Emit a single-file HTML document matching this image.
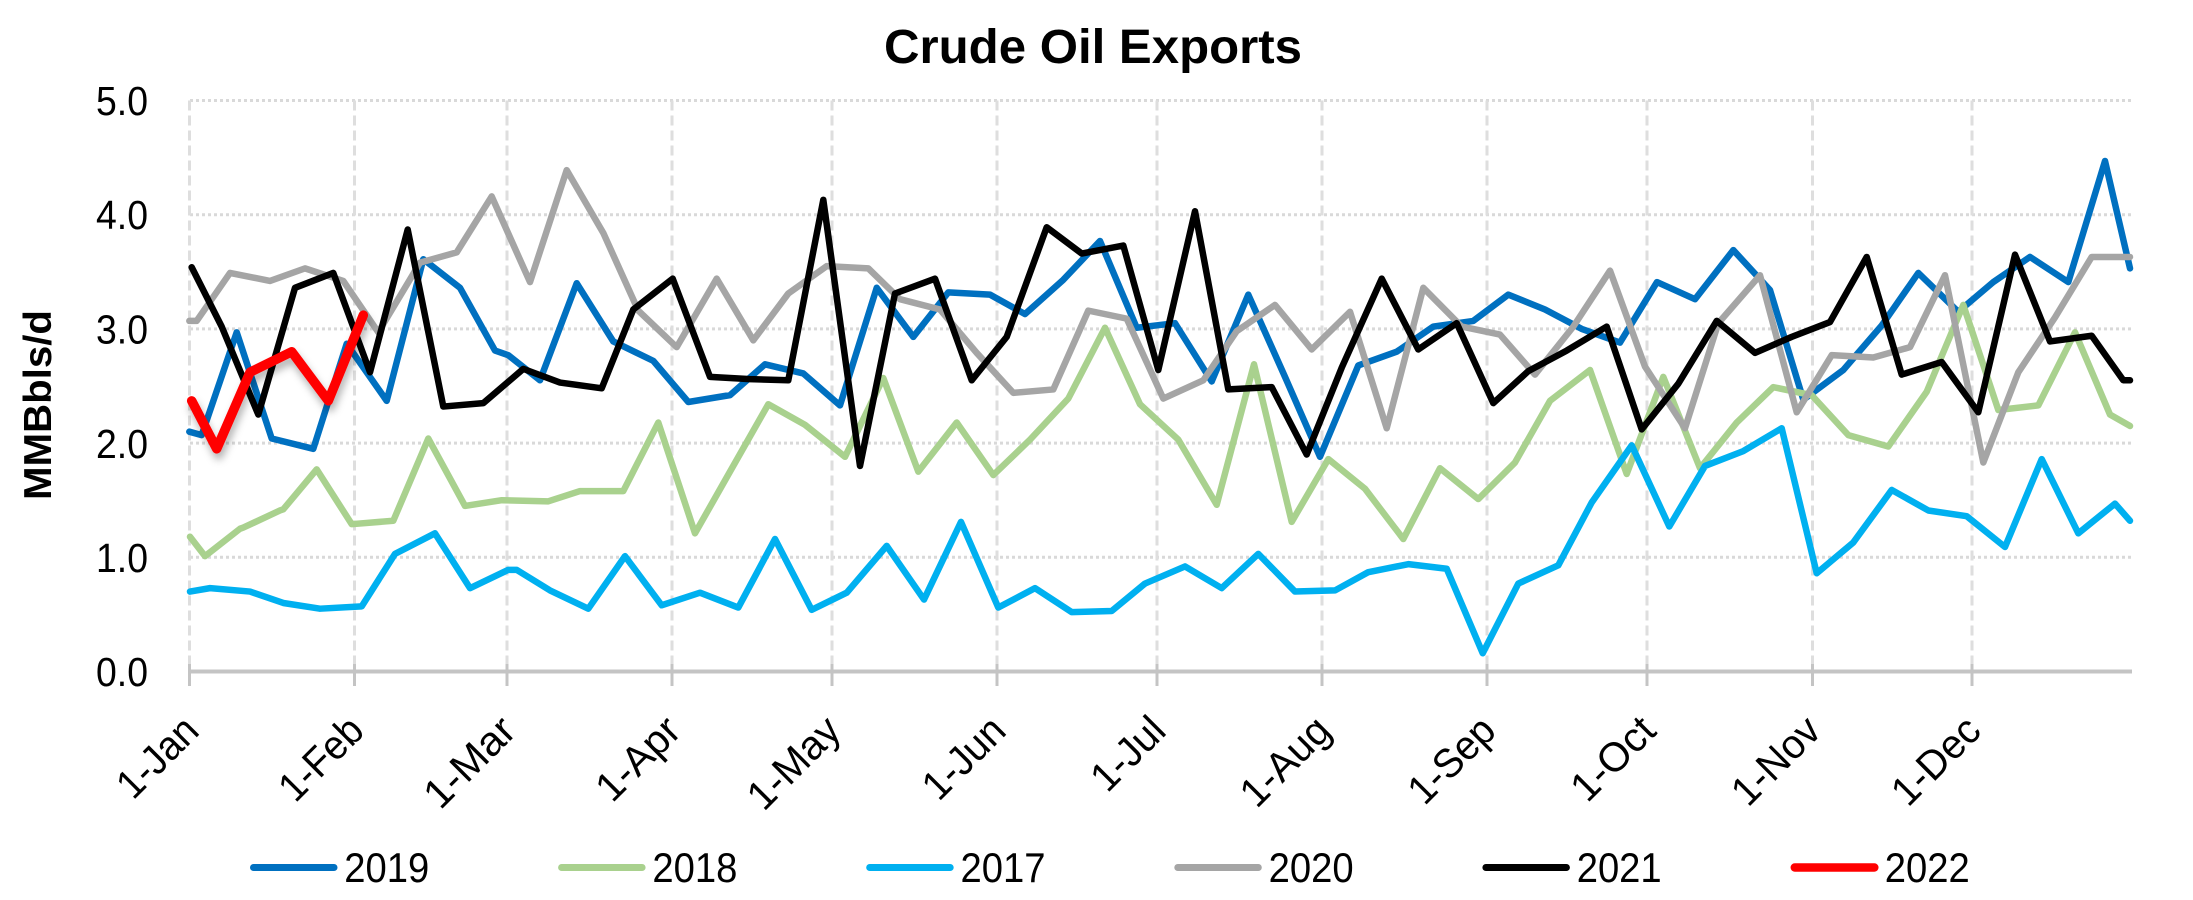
<!DOCTYPE html>
<html>
<head>
<meta charset="utf-8">
<style>
html,body{margin:0;padding:0;background:#fff;}
svg{display:block}
</style>
</head>
<body>
<svg width="2193" height="900" viewBox="0 0 2193 900" xmlns="http://www.w3.org/2000/svg" font-family="'Liberation Sans', Arial, sans-serif">
<defs>
<filter id="sh" x="-20%" y="-20%" width="140%" height="160%">
<feGaussianBlur in="SourceAlpha" stdDeviation="4"/>
<feOffset dx="2" dy="6" result="b"/>
<feFlood flood-color="#000" flood-opacity="0.3"/>
<feComposite in2="b" operator="in"/>
<feMerge><feMergeNode/><feMergeNode in="SourceGraphic"/></feMerge>
</filter>
</defs>
<rect width="2193" height="900" fill="#fff"/>

<!-- title -->
<text x="1093" y="63" font-size="48" font-weight="bold" text-anchor="middle" textLength="418" lengthAdjust="spacingAndGlyphs" fill="#000">Crude Oil Exports</text>

<!-- horizontal gridlines -->
<g stroke="#d9d9d9" stroke-width="3" stroke-dasharray="3 3">
<line x1="190" y1="100.5" x2="2131" y2="100.5"/>
<line x1="190" y1="214.7" x2="2131" y2="214.7"/>
<line x1="190" y1="328.9" x2="2131" y2="328.9"/>
<line x1="190" y1="443.1" x2="2131" y2="443.1"/>
<line x1="190" y1="557.3" x2="2131" y2="557.3"/>
</g>
<!-- vertical gridlines -->
<g stroke="#dedede" stroke-width="3" stroke-dasharray="10 5">
<line x1="189.5" y1="100.5" x2="189.5" y2="671"/>
<line x1="354.5" y1="100.5" x2="354.5" y2="671"/>
<line x1="507" y1="100.5" x2="507" y2="671"/>
<line x1="672" y1="100.5" x2="672" y2="671"/>
<line x1="832" y1="100.5" x2="832" y2="671"/>
<line x1="997" y1="100.5" x2="997" y2="671"/>
<line x1="1157" y1="100.5" x2="1157" y2="671"/>
<line x1="1322" y1="100.5" x2="1322" y2="671"/>
<line x1="1487" y1="100.5" x2="1487" y2="671"/>
<line x1="1647" y1="100.5" x2="1647" y2="671"/>
<line x1="1812.5" y1="100.5" x2="1812.5" y2="671"/>
<line x1="1972" y1="100.5" x2="1972" y2="671"/>
</g>
<!-- axis -->
<line x1="188" y1="671.5" x2="2132" y2="671.5" stroke="#c4c4c4" stroke-width="4"/>
<g stroke="#c4c4c4" stroke-width="3">
<line x1="189.5" y1="664" x2="189.5" y2="686"/>
<line x1="354.5" y1="664" x2="354.5" y2="686"/>
<line x1="507" y1="664" x2="507" y2="686"/>
<line x1="672" y1="664" x2="672" y2="686"/>
<line x1="832" y1="664" x2="832" y2="686"/>
<line x1="997" y1="664" x2="997" y2="686"/>
<line x1="1157" y1="664" x2="1157" y2="686"/>
<line x1="1322" y1="664" x2="1322" y2="686"/>
<line x1="1487" y1="664" x2="1487" y2="686"/>
<line x1="1647" y1="664" x2="1647" y2="686"/>
<line x1="1812.5" y1="664" x2="1812.5" y2="686"/>
<line x1="1972" y1="664" x2="1972" y2="686"/>
</g>

<!-- y tick labels -->
<g font-size="41" text-anchor="end" fill="#000">
<text x="148" y="115" textLength="52" lengthAdjust="spacingAndGlyphs">5.0</text>
<text x="148" y="229" textLength="52" lengthAdjust="spacingAndGlyphs">4.0</text>
<text x="148" y="343.5" textLength="52" lengthAdjust="spacingAndGlyphs">3.0</text>
<text x="148" y="458" textLength="52" lengthAdjust="spacingAndGlyphs">2.0</text>
<text x="148" y="572" textLength="52" lengthAdjust="spacingAndGlyphs">1.0</text>
<text x="148" y="686" textLength="52" lengthAdjust="spacingAndGlyphs">0.0</text>
</g>
<!-- y title -->
<text transform="translate(51,405) rotate(-90)" font-size="39" font-weight="bold" text-anchor="middle" textLength="190" lengthAdjust="spacingAndGlyphs" fill="#000">MMBbls/d</text>

<!-- x labels -->
<g font-size="41" text-anchor="end" fill="#000">
<text transform="translate(201,733) rotate(-45)" textLength="96" lengthAdjust="spacingAndGlyphs">1-Jan</text>
<text transform="translate(366,733) rotate(-45)" textLength="100" lengthAdjust="spacingAndGlyphs">1-Feb</text>
<text transform="translate(518,733) rotate(-45)" textLength="110" lengthAdjust="spacingAndGlyphs">1-Mar</text>
<text transform="translate(683,733) rotate(-45)" textLength="100" lengthAdjust="spacingAndGlyphs">1-Apr</text>
<text transform="translate(843,733) rotate(-45)" textLength="112" lengthAdjust="spacingAndGlyphs">1-May</text>
<text transform="translate(1008,733) rotate(-45)" textLength="98" lengthAdjust="spacingAndGlyphs">1-Jun</text>
<text transform="translate(1168,733) rotate(-45)" textLength="86" lengthAdjust="spacingAndGlyphs">1-Jul</text>
<text transform="translate(1333,733) rotate(-45)" textLength="108" lengthAdjust="spacingAndGlyphs">1-Aug</text>
<text transform="translate(1498,733) rotate(-45)" textLength="104" lengthAdjust="spacingAndGlyphs">1-Sep</text>
<text transform="translate(1658,733) rotate(-45)" textLength="100" lengthAdjust="spacingAndGlyphs">1-Oct</text>
<text transform="translate(1823,733) rotate(-45)" textLength="106" lengthAdjust="spacingAndGlyphs">1-Nov</text>
<text transform="translate(1983,733) rotate(-45)" textLength="106" lengthAdjust="spacingAndGlyphs">1-Dec</text>
</g>

<!-- series -->
<g fill="none" stroke-linejoin="round" stroke-linecap="round">
<polyline transform="matrix(1 0 0 -114.2 0 671.5)" vector-effect="non-scaling-stroke" stroke="#0070c0" stroke-width="6.5" points="189.3,2.10 201.7,2.07 236.7,2.97 271.7,2.04 313.3,1.95 346.7,2.87 386.7,2.37 423.3,3.61 460,3.36 495,2.81 508.3,2.77 540,2.55 576.7,3.40 613.3,2.89 653.3,2.72 688.3,2.36 730,2.42 765,2.69 803.3,2.61 840,2.33 876.7,3.36 913.3,2.93 948.3,3.32 990,3.30 1025,3.13 1063.3,3.43 1100,3.77 1136.7,3.01 1175,3.05 1211.7,2.54 1248.3,3.30 1285,2.58 1320,1.88 1358.3,2.68 1396.7,2.80 1433.3,3.02 1473.3,3.07 1508.3,3.30 1545,3.17 1581.7,3.00 1620,2.88 1657,3.41 1695,3.26 1733.3,3.69 1770,3.34 1803.3,2.38 1843.3,2.64 1881.7,3.03 1918.3,3.49 1958.3,3.15 1993.3,3.41 2030,3.63 2068.3,3.41 2105,4.47 2130,3.53"/>
<polyline transform="matrix(1 0 0 -114.2 0 671.5)" vector-effect="non-scaling-stroke" stroke="#a9d18e" stroke-width="6.5" points="190,1.18 205,1.01 240,1.25 243.3,1.26 280,1.41 283.3,1.42 316.7,1.77 351.7,1.29 393.3,1.32 428.3,2.04 465,1.45 501.7,1.50 548.3,1.49 580,1.58 623.3,1.58 658.3,2.18 695,1.21 730,1.75 768.3,2.34 805,2.16 845,1.88 883.3,2.57 918.3,1.75 956.7,2.18 993.3,1.72 1030,2.03 1068.3,2.39 1105,3.01 1140,2.34 1178.3,2.03 1216.7,1.46 1254,2.69 1291.7,1.31 1328.3,1.86 1365,1.60 1403.3,1.16 1440,1.78 1478.3,1.51 1515,1.83 1550,2.37 1590,2.64 1626.7,1.73 1663.3,2.58 1700,1.78 1736.7,2.18 1773.3,2.49 1811.7,2.42 1848.3,2.07 1888.3,1.97 1926.7,2.45 1963.3,3.21 1998.3,2.29 2038.3,2.33 2075,2.97 2110,2.25 2130,2.15"/>
<polyline transform="matrix(1 0 0 -114.2 0 671.5)" vector-effect="non-scaling-stroke" stroke="#00b0f0" stroke-width="6.5" points="190,0.70 210,0.73 250,0.70 283.3,0.60 320,0.55 361.7,0.57 395,1.03 435,1.21 470,0.73 508.3,0.89 516.7,0.89 550,0.71 588.3,0.55 625,1.01 661.7,0.58 700,0.69 738.3,0.56 775,1.16 811.7,0.54 846.7,0.69 886.7,1.10 924,0.63 961,1.31 998.3,0.56 1035,0.73 1071.7,0.52 1111.7,0.53 1145,0.77 1185,0.92 1221.7,0.73 1258.3,1.03 1295,0.70 1335,0.71 1368.3,0.87 1408.3,0.94 1446.7,0.90 1482.7,0.16 1518.3,0.77 1558.3,0.93 1591.7,1.48 1631.7,1.98 1669.3,1.27 1705,1.80 1743.3,1.93 1781.7,2.13 1816.7,0.86 1853.3,1.13 1891.7,1.59 1928.3,1.41 1966.7,1.36 2005,1.09 2041.7,1.86 2078.3,1.21 2115,1.47 2130,1.32"/>
<polyline transform="matrix(1 0 0 -114.2 0 671.5)" vector-effect="non-scaling-stroke" stroke="#a5a5a5" stroke-width="6.5" points="189.3,3.07 196.7,3.07 230,3.49 270,3.42 305,3.53 343.3,3.42 378.3,2.97 420,3.58 456.7,3.67 491.7,4.16 530,3.41 566.7,4.39 603.3,3.84 638.3,3.16 676.7,2.84 716.7,3.44 753.3,2.90 788.3,3.31 826.7,3.55 868.3,3.53 900,3.26 940,3.17 976.7,2.79 1013.3,2.44 1053.3,2.47 1088.3,3.16 1126.7,3.09 1163.3,2.39 1203.3,2.55 1236.7,2.98 1275,3.21 1311.7,2.82 1350,3.15 1386.7,2.13 1423.3,3.36 1461.7,3.02 1500,2.95 1535,2.60 1573.3,3.02 1610,3.51 1645,2.67 1685,2.13 1718.3,3.05 1760,3.47 1796.7,2.27 1831.7,2.77 1873.3,2.75 1910,2.84 1945,3.47 1983.3,1.83 2018.3,2.62 2055,3.10 2091.7,3.63 2130,3.63"/>
<polyline transform="matrix(1 0 0 -114.2 0 671.5)" vector-effect="non-scaling-stroke" stroke="#000000" stroke-width="6.5" points="191.7,3.54 221.7,3.02 258.3,2.25 295,3.36 333.3,3.49 370,2.62 407.7,3.87 443.3,2.32 483.3,2.35 523.3,2.65 560,2.53 601.7,2.48 633.3,3.17 672.7,3.44 710,2.58 750,2.56 788.3,2.55 823.3,4.13 860,1.80 895,3.31 935,3.44 971.7,2.55 1006.7,2.93 1046.7,3.89 1081.7,3.66 1123.3,3.73 1158.3,2.64 1195,4.03 1228.3,2.47 1271.7,2.49 1306.7,1.90 1341.7,2.66 1381.7,3.44 1418.3,2.82 1456.7,3.05 1493.3,2.35 1528.3,2.63 1566.7,2.81 1606.7,3.02 1641.7,2.12 1678.3,2.52 1716.7,3.07 1755,2.79 1791.7,2.93 1830,3.06 1866.7,3.63 1901.7,2.60 1941.7,2.71 1978.3,2.27 2015,3.65 2050,2.89 2091.7,2.94 2123.3,2.55 2130,2.55"/>
<g filter="url(#sh)">
<polyline transform="matrix(1 0 0 -114.2 0 671.5)" vector-effect="non-scaling-stroke" stroke="#ff0000" stroke-width="9.5" points="191.7,2.37 216.7,1.95 250,2.62 291.7,2.80 328.3,2.37 363.3,3.12"/>
</g>
</g>

<!-- legend -->
<g stroke-linecap="round">
<line x1="253.5" y1="867.5" x2="334" y2="867.5" stroke="#0070c0" stroke-width="7"/>
<line x1="561.6" y1="867.5" x2="642.1" y2="867.5" stroke="#a9d18e" stroke-width="7"/>
<line x1="869.7" y1="867.5" x2="950.2" y2="867.5" stroke="#00b0f0" stroke-width="7"/>
<line x1="1177.8" y1="867.5" x2="1258.3" y2="867.5" stroke="#a5a5a5" stroke-width="7"/>
<line x1="1485.9" y1="867.5" x2="1566.4" y2="867.5" stroke="#000000" stroke-width="7"/>
<line x1="1794.8" y1="867.5" x2="1874.3" y2="867.5" stroke="#ff0000" stroke-width="8.5"/>
</g>
<g font-size="42" fill="#000">
<text x="344.3" y="882" textLength="85" lengthAdjust="spacingAndGlyphs">2019</text>
<text x="652.4" y="882" textLength="85" lengthAdjust="spacingAndGlyphs">2018</text>
<text x="960.5" y="882" textLength="85" lengthAdjust="spacingAndGlyphs">2017</text>
<text x="1268.6" y="882" textLength="85" lengthAdjust="spacingAndGlyphs">2020</text>
<text x="1576.7" y="882" textLength="85" lengthAdjust="spacingAndGlyphs">2021</text>
<text x="1884.8" y="882" textLength="85" lengthAdjust="spacingAndGlyphs">2022</text>
</g>
</svg>
</body>
</html>
